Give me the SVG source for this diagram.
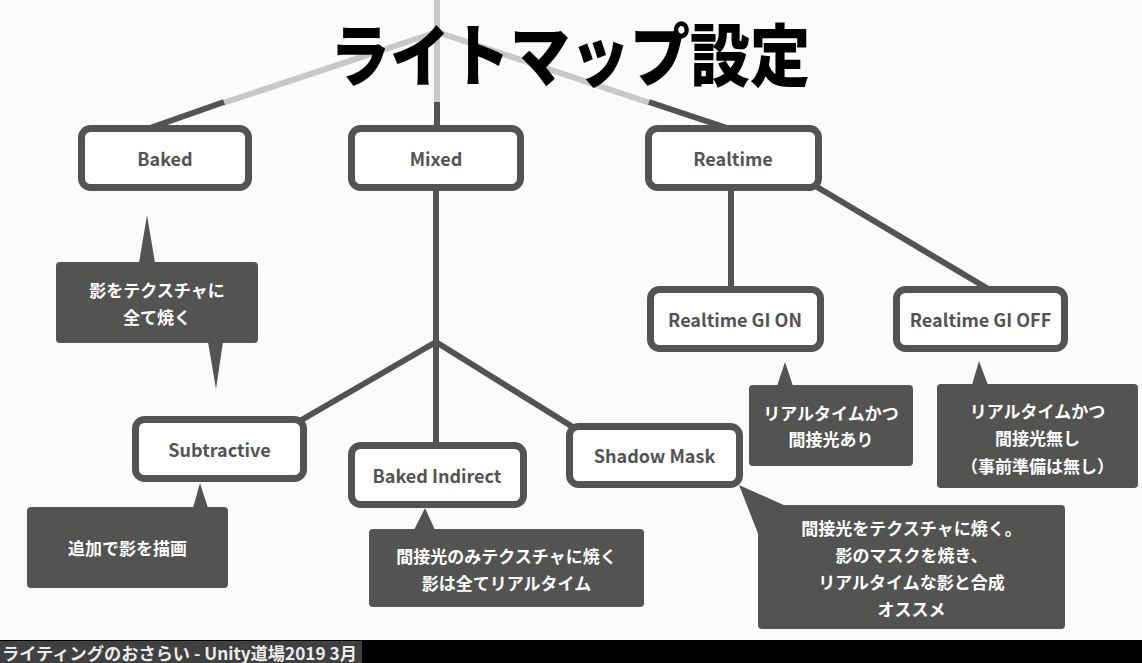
<svg xmlns="http://www.w3.org/2000/svg" width="1142" height="663" viewBox="0 0 1142 663">
<style>
.bg{fill:#fafbfa}
.light{stroke:#c8c9c7;stroke-width:6;fill:none}
.conn{stroke:#535452;stroke-width:6;fill:none}
.box{fill:#ffffff;stroke:#535452;stroke-width:7}
.lbl{font-family:"Noto Sans CJK JP","Noto Sans",sans-serif;font-weight:bold;font-size:18px;fill:#535452;text-anchor:middle;dominant-baseline:central}
.call{fill:#535452}
.ct{font-family:"Noto Sans CJK JP",sans-serif;font-weight:bold;font-size:17px;fill:#ffffff;text-anchor:middle;dominant-baseline:central}
.title{font-family:"Noto Sans CJK JP",sans-serif;font-weight:900;font-size:68px;fill:#000000;text-anchor:middle;dominant-baseline:central}
.foot{font-family:"Noto Sans CJK JP",sans-serif;font-weight:bold;font-size:17px;fill:#ececec;dominant-baseline:central}
</style>
<rect class="bg" x="0" y="0" width="1142" height="663"/>
<g id="connectors">
  <line class="light" x1="437" y1="0" x2="437" y2="103"/>
  <line class="light" x1="437" y1="32" x2="223" y2="103"/>
  <line class="light" x1="437" y1="32" x2="650" y2="103"/>
  <line class="conn" x1="437" y1="102" x2="437" y2="130"/>
  <line class="conn" x1="224" y1="102" x2="150" y2="128"/>
  <line class="conn" x1="649" y1="102" x2="727" y2="128"/>
  <line class="conn" x1="436" y1="188" x2="436" y2="446"/>
  <line class="conn" x1="436" y1="342" x2="298" y2="422"/>
  <line class="conn" x1="436" y1="342" x2="576" y2="429"/>
  <line class="conn" x1="731" y1="188" x2="731" y2="290"/>
  <line class="conn" x1="812" y1="184" x2="990" y2="290"/>
</g>
<g id="title"><text class="title" x="570" y="51" textLength="480" lengthAdjust="spacingAndGlyphs">ライトマップ設定</text></g>
<g id="node-baked"><rect class="box" x="81.5" y="128.5" width="167" height="59" rx="9"/><text class="lbl" x="165" y="158">Baked</text></g>
<g id="node-mixed"><rect class="box" x="351.5" y="128.5" width="169" height="59" rx="9"/><text class="lbl" x="436" y="158">Mixed</text></g>
<g id="node-realtime"><rect class="box" x="648.5" y="128.5" width="170" height="59" rx="9"/><text class="lbl" x="733" y="158">Realtime</text></g>
<g id="node-gi-on"><rect class="box" x="650.5" y="289.5" width="170" height="59" rx="9"/><text class="lbl" x="735" y="319">Realtime GI ON</text></g>
<g id="node-gi-off"><rect class="box" x="896.5" y="289.5" width="168" height="59" rx="9"/><text class="lbl" x="980.5" y="319">Realtime GI OFF</text></g>
<g id="node-subtractive"><rect class="box" x="135.5" y="419.5" width="168" height="59" rx="9"/><text class="lbl" x="219.5" y="449">Subtractive</text></g>
<g id="node-baked-indirect"><rect class="box" x="351.5" y="445.5" width="172" height="59" rx="9"/><text class="lbl" x="437" y="475">Baked Indirect</text></g>
<g id="node-shadow-mask"><rect class="box" x="569.5" y="426.5" width="170" height="58" rx="9"/><text class="lbl" x="654.5" y="455">Shadow Mask</text></g>
<g id="callout-baked">
  <rect class="call" x="56" y="262" width="202" height="81" rx="4"/>
  <polygon class="call" points="139,263 147,215 155,263"/>
  <polygon class="call" points="208,342 216,389 223,342"/>
  <text class="ct" x="157" y="289">影をテクスチャに</text>
  <text class="ct" x="157" y="316">全て焼く</text>
</g>
<g id="callout-subtractive">
  <rect class="call" x="27" y="507" width="201" height="81" rx="4"/>
  <polygon class="call" points="193,508 200,483 208,508"/>
  <text class="ct" x="127.5" y="547">追加で影を描画</text>
</g>
<g id="callout-baked-indirect">
  <rect class="call" x="369" y="529" width="275" height="78" rx="4"/>
  <polygon class="call" points="414,530 425,508 435,530"/>
  <text class="ct" x="506.5" y="555">間接光のみテクスチャに焼く</text>
  <text class="ct" x="506.5" y="582">影は全てリアルタイム</text>
</g>
<g id="callout-shadow-mask">
  <rect class="call" x="758" y="505" width="307" height="124" rx="4"/>
  <polygon class="call" points="759,536 739,485 786,506"/>
  <text class="ct" x="911.5" y="527">間接光をテクスチャに焼く。</text>
  <text class="ct" x="911.5" y="554">影のマスクを焼き、</text>
  <text class="ct" x="911.5" y="581">リアルタイムな影と合成</text>
  <text class="ct" x="911.5" y="608">オススメ</text>
</g>
<g id="callout-gi-on">
  <rect class="call" x="749" y="385" width="164" height="81" rx="4"/>
  <polygon class="call" points="777,386 785,362 793,386"/>
  <text class="ct" x="831" y="412">リアルタイムかつ</text>
  <text class="ct" x="831" y="438">間接光あり</text>
</g>
<g id="callout-gi-off">
  <rect class="call" x="937" y="384" width="201" height="104" rx="4"/>
  <polygon class="call" points="972,385 979,361 988,385"/>
  <text class="ct" x="1037.5" y="410">リアルタイムかつ</text>
  <text class="ct" x="1037.5" y="437">間接光無し</text>
  <text class="ct" x="1037.5" y="465">（事前準備は無し）</text>
</g>
<g id="footer">
  <rect x="0" y="640" width="1142" height="23" fill="#000000"/>
  <rect x="0" y="641" width="362" height="22" fill="#404040"/>
  <text class="foot" x="2" y="652" textLength="355" lengthAdjust="spacingAndGlyphs">ライティングのおさらい - Unity道場2019 3月</text>
</g>
</svg>
